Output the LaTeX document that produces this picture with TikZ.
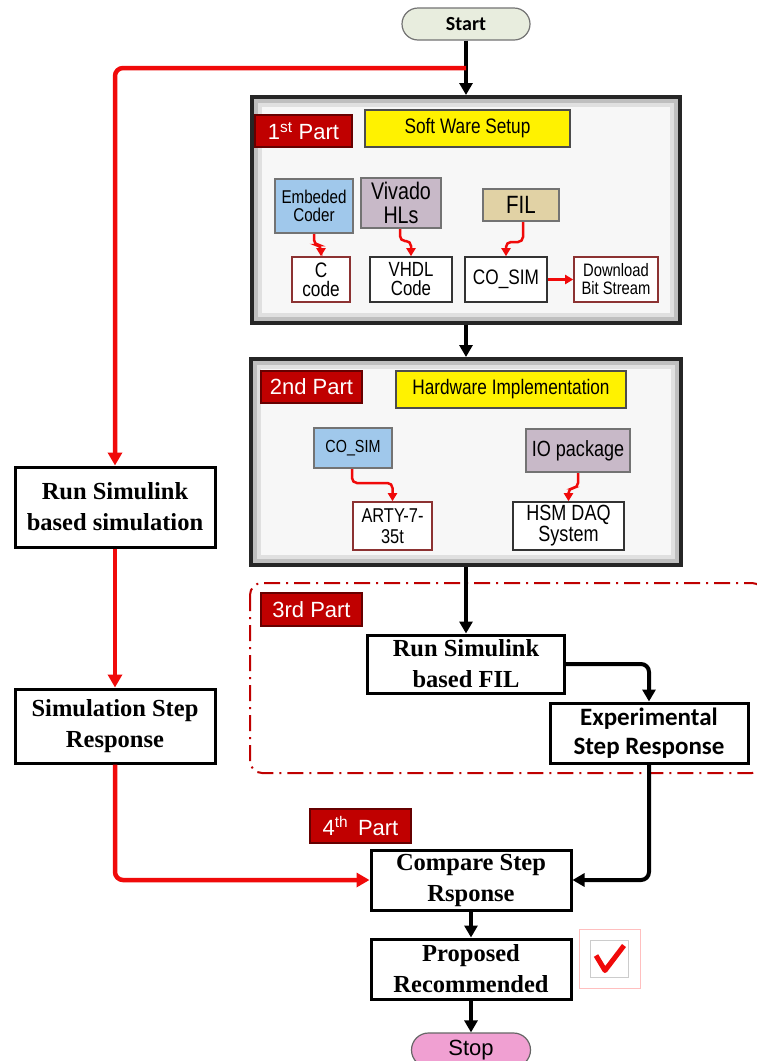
\documentclass[tikz,border=0pt]{standalone}
\usepackage{fontspec}
\setmainfont{Liberation Serif}
\setsansfont{Liberation Sans}
\newfontfamily\calfont{Carlito}
\newfontfamily\nsans[FakeStretch=0.82]{Liberation Sans}
\usetikzlibrary{arrows.meta,shapes.misc,calc}
\definecolor{lblred}{RGB}{192,0,0}
\definecolor{cblue}{RGB}{160,200,235}
\definecolor{cpurp}{RGB}{200,185,200}
\definecolor{ctan}{RGB}{225,210,165}
\definecolor{cstart}{RGB}{232,237,222}
\definecolor{cstop}{RGB}{240,160,210}
\definecolor{cred}{RGB}{240,10,10}
\definecolor{cbrown}{RGB}{140,50,50}
\newcommand{\fs}[2]{\fontsize{#1}{#2}\selectfont}
\begin{document}
\begin{tikzpicture}[x=1pt,y=-1pt,
  partbox/.style={draw=black!85,line width=4,fill=black!3,inner sep=0},
  proc/.style={draw=black,line width=3,fill=white,align=center,inner sep=0,
    font=\bfseries\fs{24.5}{31}},
  partlbl/.style={draw=red!40!black,line width=1.5,fill=lblred,text=white,inner sep=0,
    font=\sffamily\fs{22}{22}},
  ttl/.style={draw=black!70,line width=2,fill=yellow,inner sep=0,
    font=\nsans\fs{21}{21}},
  tool/.style={draw=black!55,line width=2,align=center,inner sep=0},
  outbox/.style={draw=black!80,line width=1.6,fill=white,align=center,inner sep=0},
  redarr/.style={draw=cred,line width=4.5,-{Triangle[length=13pt,width=14pt]}},
  blkarr/.style={draw=black,line width=4,-{Triangle[length=12pt,width=13pt]}},
  smallarr/.style={draw=cred,line width=2.5,rounded corners=5,-{Triangle[length=8pt,width=9pt]}}
]
\useasboundingbox (0,0) rectangle (756,1061);
\fill[white] (0,0) rectangle (756,1061);

% ---------- parts ----------
\node[partbox,minimum width=428,minimum height=226] (p1) at (466,210) {};
\draw[black!25,line width=4] (256,101) rectangle (676,319);
\draw[black!12,line width=4] (260,105) rectangle (672,315);
\node[partbox,minimum width=430,minimum height=206] (p2) at (466,462) {};
\draw[black!25,line width=4] (255,363) rectangle (677,561);
\draw[black!12,line width=4] (259,367) rectangle (673,557);

\draw[draw=red!75!black,line width=2,rounded corners=12,
  dash pattern=on 16pt off 6pt on 2pt off 6pt] (250,583) rectangle (764,773);

% ---------- main nodes ----------
\node[rounded rectangle,draw=black!55,line width=1.2,fill=cstart,minimum width=128,minimum height=32,
  inner sep=0,font=\calfont\bfseries\fs{20}{20}] (start) at (466,24) {Start};

\node[partlbl,minimum width=97,minimum height=32] (l1) at (303.5,131) {1\textsuperscript{st} Part};
\node[ttl,minimum width=205,minimum height=37] (sw) at (467.5,128.5) {Soft Ware Setup};
\node[tool,fill=cblue,minimum width=78,minimum height=54,font=\nsans\fs{18.5}{18}] (ec) at (314,206) {Embeded\\Coder};
\node[tool,fill=cpurp,minimum width=80,minimum height=50,font=\nsans\fs{24}{24}] (vh) at (401,203) {Vivado\\HLs};
\node[tool,fill=ctan,minimum width=76,minimum height=32,font=\nsans\fs{25}{25}] (fil) at (521,205) {FIL};
\node[outbox,draw=cbrown,minimum width=58,minimum height=45,font=\nsans\fs{21}{19}] (cc) at (321,279.5) {C\\code};
\node[outbox,minimum width=82,minimum height=45,font=\nsans\fs{20.5}{19}] (vhdl) at (411,279.5) {VHDL\\Code};
\node[outbox,minimum width=82,minimum height=45,font=\nsans\fs{21}{21}] (cosim) at (506,279.5) {CO\_SIM};
\node[outbox,draw=cbrown,minimum width=84,minimum height=45,font=\nsans\fs{18}{18}] (dl) at (616,279.5) {Download\\Bit Stream};

\node[partlbl,minimum width=101,minimum height=32] (l2) at (311.5,387) {2nd Part};
\node[ttl,minimum width=230,minimum height=37] (hw) at (511,389.5) {Hardware Implementation};
\node[tool,fill=cblue,minimum width=78,minimum height=40,font=\nsans\fs{17.5}{18}] (cs2) at (353,448) {CO\_SIM};
\node[tool,fill=cpurp,minimum width=104,minimum height=43,font=\nsans\fs{22}{22}] (io) at (578,450.5) {IO package};
\node[outbox,draw=cbrown,minimum width=79,minimum height=48,font=\nsans\fs{20}{21}] (arty) at (392.5,526) {ARTY-7-\\35t};
\node[outbox,minimum width=111,minimum height=48,font=\nsans\fs{22}{21}] (hsm) at (568.5,526) {HSM DAQ\\System};

\node[partlbl,minimum width=101,minimum height=33] (l3) at (311.5,609.5) {3rd Part};
\node[proc,minimum width=197,minimum height=58] (fil2) at (466,664) {Run Simulink\\based FIL};
\node[proc,minimum width=198,minimum height=60,font=\calfont\bfseries\fs{25}{29}] (exp) at (649,733) {Experimental\\Step Response};

\node[proc,minimum width=200,minimum height=80] (rs) at (115,507) {Run Simulink\\based simulation};
\node[proc,minimum width=200,minimum height=74] (ss) at (115,726) {Simulation Step\\Response};

\node[partlbl,minimum width=101,minimum height=34] (l4) at (360.5,826) {4\textsuperscript{th}\, Part};
\node[proc,minimum width=200,minimum height=60] (cmp) at (471,880) {Compare Step\\Rsponse};
\node[proc,minimum width=200,minimum height=60] (prop) at (471,969) {Proposed\\Recommended};
\node[rounded rectangle,draw=black!60,line width=1.2,fill=cstop,minimum width=119,minimum height=34,
  inner sep=0,font=\sffamily\fs{22}{22}] (stop) at (471,1050) {Stop};

\node[draw=red!25,line width=1,minimum width=61,minimum height=59,inner sep=0] (chk) at (609.5,958.5) {};
\node[draw=black!20,line width=1,minimum width=38,minimum height=37,inner sep=0] (chki) at (609,958.5) {};
\draw[cred,line width=5,line join=round] ($(chki.center)+(-13,-3)$) -- ($(chki.center)+(-4,12)$) -- ($(chki.center)+(15,-13)$);

% ---------- connectors ----------
\coordinate (split) at (466,68);
\draw[blkarr] (start.south) -- (p1.north);
\draw[redarr,rounded corners=8] (split) -- (split -| rs.north) -- (rs.north);
\draw[redarr] (rs.south) -- (ss.north);
\draw[redarr,rounded corners=8] (ss.south) |- (cmp.west);
\draw[blkarr] (p1.south) -- (p2.north);
\draw[blkarr] (p2.south) -- (fil2.north);
\draw[blkarr,rounded corners=8] (fil2.east) -| (exp.north);
\draw[blkarr,rounded corners=8] (exp.south) |- (cmp.east);
\draw[blkarr] (cmp.south) -- (prop.north);
\draw[blkarr] (prop.south) -- (stop.north);

\draw[smallarr] (ec.south) -- ++(0,11) -| (cc.north);
\draw[smallarr] ($(vh.south)+(-1,0)$) -- ++(0,12) -| (vhdl.north);
\draw[smallarr] ($(fil.south)+(2,0)$) -- ++(0,20) -| (cosim.north);
\draw[smallarr] (cosim.east) -- (dl.west);
\draw[smallarr] ($(cs2.south)+(-1,0)$) -- ++(0,14) -| (arty.north);
\draw[smallarr] (io.south) -- ++(0,15) -| (hsm.north);
\end{tikzpicture}
\end{document}
